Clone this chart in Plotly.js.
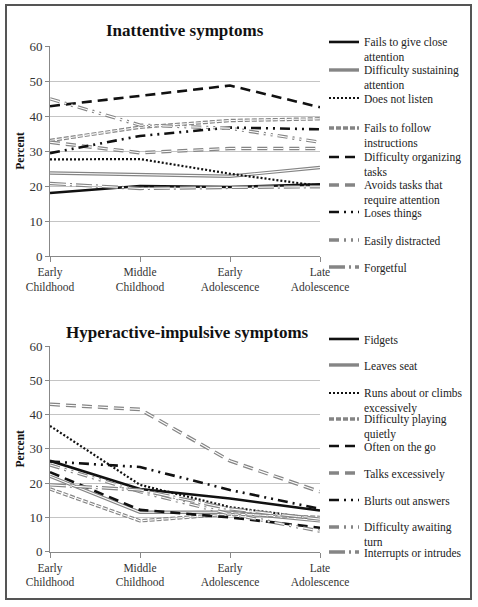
<!DOCTYPE html>
<html>
<head>
<meta charset="utf-8">
<script src="https://cdn.plot.ly/plotly-3.0.1.min.js"></script>
<style>html,body{margin:0;padding:0;background:#fff;}#chart{width:478px;height:607px;}</style>
</head>
<body>
<div id="chart"></div>
<script>
// ---- data ----
const categories = ["Early<br>Childhood", "Middle<br>Childhood", "Early<br>Adolescence", "Late<br>Adolescence"];
const yTicks = [0, 10, 20, 30, 40, 50, 60];

const inattentiveTitle = "Inattentive symptoms";
const inattentiveNames = [
  "Fails to give close<br>attention",
  "Difficulty sustaining<br>attention",
  "Does not listen",
  "Fails to follow<br>instructions",
  "Difficulty organizing<br>tasks",
  "Avoids tasks that<br>require attention",
  "Loses things",
  "Easily distracted",
  "Forgetful"
];
const failsToGiveAttention   = [18.0, 20.0, 19.7, 20.5];
const difficultySustaining   = [23.7, 23.3, 22.8, 25.3];
const doesNotListen          = [27.6, 27.7, 23.5, 20.0];
const failsToFollow          = [33.0, 36.8, 38.7, 39.2];
const difficultyOrganizing   = [42.8, 45.8, 48.7, 42.5];
const avoidsTasks            = [32.5, 29.5, 30.7, 30.7];
const losesThings            = [29.4, 34.3, 36.7, 36.2];
const easilyDistracted       = [44.9, 37.4, 36.5, 32.5];
const forgetful              = [20.7, 19.3, 19.6, 19.8];

const hyperactiveTitle = "Hyperactive-impulsive symptoms";
const hyperactiveNames = [
  "Fidgets",
  "Leaves seat",
  "Runs about or climbs<br>excessively",
  "Difficulty playing<br>quietly",
  "Often on the go",
  "Talks excessively",
  "Blurts out answers",
  "Difficulty awaiting<br>turn",
  "Interrupts or intrudes"
];
const fidgets                = [26.5, 18.3, 15.5, 12.0];
const leavesSeat             = [22.0, 11.5, 11.5, 9.0];
const runsAbout              = [36.7, 19.5, 13.0, 9.5];
const difficultyPlaying      = [18.3, 9.0, 11.0, 10.0];
const oftenOnTheGo           = [23.2, 12.2, 10.0, 7.0];
const talksExcessively       = [43.0, 41.5, 26.5, 17.5];
const blurtsOut              = [26.3, 24.7, 18.0, 12.5];
const difficultyAwaiting     = [25.3, 17.5, 11.0, 6.0];
const interrupts             = [19.5, 18.0, 12.5, 9.5];

const inattentiveSeries = [failsToGiveAttention, difficultySustaining, doesNotListen, failsToFollow,
  difficultyOrganizing, avoidsTasks, losesThings, easilyDistracted, forgetful];
const hyperactiveSeries = [fidgets, leavesSeat, runsAbout, difficultyPlaying, oftenOnTheGo,
  talksExcessively, blurtsOut, difficultyAwaiting, interrupts];

// ---- styles ----
const BLACK = '#111111', GRAY = '#858585';
const styles = [
  {color: BLACK, width: 2.6, dash: 'solid'},
  {color: GRAY, width: 3.4, dash: 'solid', double: true},
  {color: BLACK, width: 2.2, dash: '2px,2px'},
  {color: GRAY, width: 3.4, dash: '5px,2px', double: true},
  {color: BLACK, width: 2.6, dash: '10px,6px'},
  {color: GRAY, width: 3.6, dash: '10px,6px', double: true},
  {color: BLACK, width: 2.6, dash: '10px,5px,2px,5px,2px,5px'},
  {color: GRAY, width: 3.4, dash: '10px,5px,2px,5px,2px,5px', double: true},
  {color: GRAY, width: 3.4, dash: '16px,4px,2px,4px', double: true}
];

const W = 478, H = 607;
const FONT = '"Liberation Serif", serif';
const px = v => v / W;
const py = v => 1 - v / H;

const traces = [];
const layoutLegends = {};
let legendIndex = 0;

function addPanel(seriesList, names, xa, ya, legendTops) {
  seriesList.forEach((vals, i) => {
    const st = styles[i];
    legendIndex++;
    const key = legendIndex === 1 ? 'legend' : 'legend' + legendIndex;
    traces.push({
      type: 'scatter', mode: 'lines', x: categories, y: vals, name: names[i],
      xaxis: xa, yaxis: ya, legend: key,
      line: {color: st.color, width: st.width, dash: st.dash},
      hoverinfo: 'skip'
    });
    if (st.double) {
      traces.push({
        type: 'scatter', mode: 'lines', x: categories, y: vals, showlegend: false,
        xaxis: xa, yaxis: ya,
        line: {color: '#ffffff', width: 1.1, dash: st.dash},
        hoverinfo: 'skip'
      });
    }
    layoutLegends[key] = {
      x: px(324), xanchor: 'left', y: py(legendTops[i]), yanchor: 'top',
      bgcolor: 'rgba(0,0,0,0)', borderwidth: 0, valign: 'top',
      itemwidth: 30, tracegroupgap: 0,
      font: {family: FONT, size: 11.5, color: '#222'}
    };
  });
}

const topLegendCenters = [42, 70, 98, 128, 157, 185, 212, 240, 267];
const botLegendCenters = [339, 365, 393, 419, 446, 473, 500, 527, 552];
addPanel(inattentiveSeries, inattentiveNames, 'x', 'y', topLegendCenters.map(c => c - 14));
addPanel(hyperactiveSeries, hyperactiveNames, 'x2', 'y2', botLegendCenters.map(c => c - 14));

const xAxisBase = {
  type: 'category', range: [0, 3], domain: [px(50), px(320)],
  showgrid: false, showline: true, linecolor: '#888', linewidth: 1,
  ticks: 'outside', ticklen: 5, tickcolor: '#888',
  tickfont: {family: FONT, size: 11.5, color: '#333'}, fixedrange: true
};
const yAxisBase = {
  range: [0, 60], tickvals: yTicks, showgrid: true, gridcolor: '#c4c4c4', gridwidth: 1,
  showline: true, linecolor: '#888', linewidth: 1, ticks: 'outside', ticklen: 4, tickcolor: '#888',
  zeroline: false, tickfont: {family: FONT, size: 13, color: '#333'}, fixedrange: true,
  title: {text: '<b>Percent</b>', font: {family: FONT, size: 11.5, color: '#111'}, standoff: 2}
};

const layout = Object.assign({
  width: W, height: H, margin: {l: 0, r: 0, t: 0, b: 0},
  paper_bgcolor: '#fff', plot_bgcolor: 'rgba(0,0,0,0)',
  xaxis: Object.assign({}, xAxisBase, {anchor: 'y'}),
  yaxis: Object.assign({}, yAxisBase, {domain: [py(256), py(46)], anchor: 'x'}),
  xaxis2: Object.assign({}, xAxisBase, {anchor: 'y2'}),
  yaxis2: Object.assign({}, yAxisBase, {domain: [py(551.7), py(346)], anchor: 'x2'}),
  annotations: [
    {text: '<b>' + inattentiveTitle + '</b>', xref: 'paper', yref: 'paper', x: px(185), y: py(30),
     xanchor: 'center', yanchor: 'middle', showarrow: false, font: {family: FONT, size: 17, color: '#111'}},
    {text: '<b>' + hyperactiveTitle + '</b>', xref: 'paper', yref: 'paper', x: px(187), y: py(332),
     xanchor: 'center', yanchor: 'middle', showarrow: false, font: {family: FONT, size: 17, color: '#111'}}
  ],
  shapes: [
    {type: 'rect', xref: 'paper', yref: 'paper', x0: px(6), x1: px(471), y0: py(599), y1: py(5),
     line: {color: '#555', width: 2}, fillcolor: 'rgba(0,0,0,0)', layer: 'below'}
  ]
}, layoutLegends);

Plotly.newPlot('chart', traces, layout, {displayModeBar: false, staticPlot: true});
</script>
</body>
</html>
